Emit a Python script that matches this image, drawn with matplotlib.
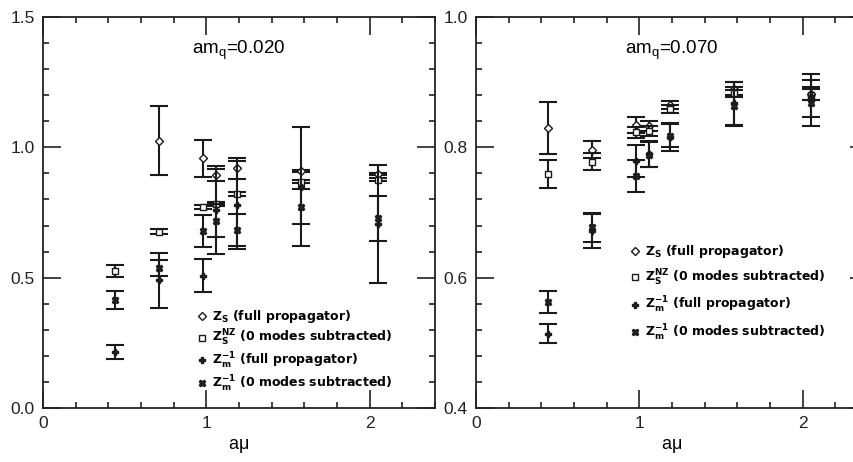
import numpy as np
import matplotlib
matplotlib.use("Agg")
import matplotlib.pyplot as plt
from matplotlib.ticker import MultipleLocator

# a*mu positions (same for both panels)
amu = [0.44, 0.71, 0.98, 1.06, 1.19, 1.58, 2.05]

# left panel, am_q = 0.020
zs_full_020 = [np.nan, 1.026, 0.958, 0.894, 0.919, 0.910, 0.896]
zs_full_020_err = [np.nan, 0.131, 0.072, 0.022, 0.040, 0.004, 0.004]
zs_nz_020 = [0.526, 0.677, 0.770, 0.783, 0.821, 0.868, 0.875]
zs_nz_020_err = [0.024, 0.008, 0.008, 0.008, 0.008, 0.006, 0.006]
zm_full_020 = [0.216, 0.490, 0.508, 0.760, 0.779, 0.849, 0.706]
zm_full_020_err = [0.027, 0.105, 0.062, 0.170, 0.169, 0.228, 0.226]
zm_nz_020 = [0.414, 0.538, 0.679, 0.719, 0.683, 0.772, 0.727]
zm_nz_020_err = [0.034, 0.030, 0.062, 0.062, 0.060, 0.067, 0.085]

# right panel, am_q = 0.070
zs_full_070 = [0.830, 0.796, 0.834, 0.833, 0.865, 0.890, 0.882]
zs_full_070_err = [0.040, 0.013, 0.012, 0.008, 0.006, 0.010, 0.010]
zs_nz_070 = [0.759, 0.778, 0.823, 0.825, 0.859, 0.883, 0.881]
zs_nz_070_err = [0.022, 0.013, 0.008, 0.008, 0.006, 0.005, 0.008]
zm_full_070 = [0.514, 0.671, 0.779, 0.790, 0.816, 0.868, 0.879]
zm_full_070_err = [0.015, 0.026, 0.025, 0.020, 0.021, 0.033, 0.033]
zm_nz_070 = [0.563, 0.677, 0.756, 0.789, 0.818, 0.863, 0.868]
zm_nz_070_err = [0.017, 0.022, 0.024, 0.019, 0.018, 0.030, 0.035]

labels = [r"Z$_{S}$ (full propagator)",
          r"Z$_{S}^{NZ}$ (0 modes subtracted)",
          r"Z$_{m}^{-1}$ (full propagator)",
          r"Z$_{m}^{-1}$ (0 modes subtracted)"]

plt.rcParams['font.family'] = ['Liberation Sans', 'DejaVu Sans']
plt.rcParams['mathtext.default'] = 'regular'

fig = plt.figure(figsize=(8.54, 4.62), dpi=100)
ax1 = fig.add_axes([43/854, 54/462, 392/854, 391/462])
ax2 = fig.add_axes([476/854, 54/462, 392/854, 391/462])

styles = [dict(marker='D', ms=4, mfc='white'),
          dict(marker='s', ms=5, mfc='white'),
          dict(marker='P', ms=4.5, mfc='#222222'),
          dict(marker='X', ms=5, mfc='#222222')]


def panel(ax, series, title, ylim, yminor, ymajor, leg_anchor, leg_space):
    handles = []
    for (y, e), st in zip(series, styles):
        ax.errorbar(amu, y, yerr=e, fmt='none', ecolor='#1a1a1a',
                    elinewidth=1.5, capsize=6.5, capthick=1.5)
        ln, = ax.plot(amu, y, linestyle='none', color='#1a1a1a',
                      mec='#1a1a1a', mew=1.0, **st)
        handles.append(ln)
    ax.set_xlim(0, 2.4)
    ax.set_ylim(*ylim)
    ax.xaxis.set_major_locator(MultipleLocator(1))
    ax.xaxis.set_minor_locator(MultipleLocator(0.2))
    ax.yaxis.set_major_locator(MultipleLocator(ymajor))
    ax.yaxis.set_minor_locator(MultipleLocator(yminor))
    ax.tick_params(which='both', direction='in', top=True, right=True,
                   width=1.2, colors='#222222', labelsize=12.5)
    ax.tick_params(which='major', length=13, pad=6)
    ax.tick_params(which='minor', length=4.5)
    ax.xaxis.set_major_formatter(matplotlib.ticker.FormatStrFormatter('%d'))
    ax.yaxis.set_major_formatter(matplotlib.ticker.FormatStrFormatter('%.1f'))
    for s in ax.spines.values():
        s.set_linewidth(1.3)
        s.set_color('#222222')
    ax.set_xlabel(r"a$\mu$", fontsize=13, labelpad=4)
    ax.text(0.5, 0.915, title, transform=ax.transAxes, ha='center',
            va='center', fontsize=13.5)
    ax.legend(handles, labels, loc='upper left', bbox_to_anchor=leg_anchor,
              frameon=False, handlelength=0.6, handletextpad=0.5,
              labelspacing=leg_space, borderpad=0, borderaxespad=0,
              prop={'family': 'DejaVu Sans', 'weight': 'bold', 'size': 9})


panel(ax1, [(zs_full_020, zs_full_020_err), (zs_nz_020, zs_nz_020_err),
            (zm_full_020, zm_full_020_err), (zm_nz_020, zm_nz_020_err)],
      r"am$_q$=0.020", (0, 1.5), 0.1, 0.5, (0.395, 0.255), 0.22)
panel(ax2, [(zs_full_070, zs_full_070_err), (zs_nz_070, zs_nz_070_err),
            (zm_full_070, zm_full_070_err), (zm_nz_070, zm_nz_070_err)],
      r"am$_q$=0.070", (0.4, 1.0), 0.04, 0.2, (0.395, 0.422), 0.6)

fig.savefig("out.png", dpi=100)
